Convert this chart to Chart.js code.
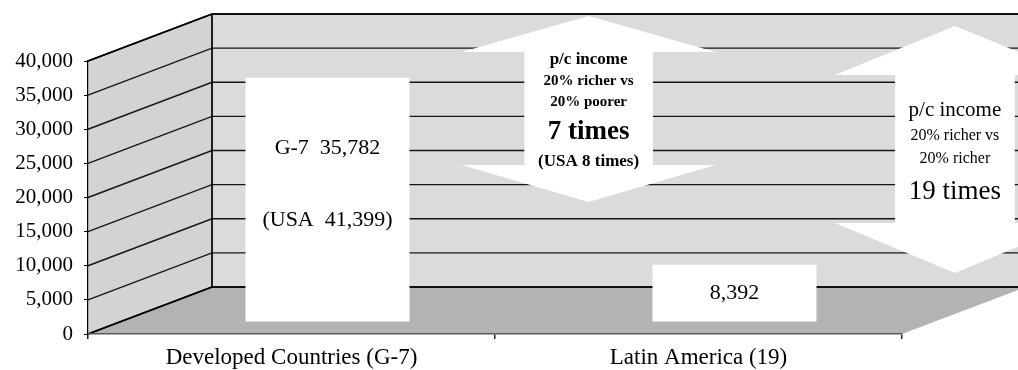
<!DOCTYPE html>
<html>
<head>
<meta charset="utf-8">
<script src="https://cdn.jsdelivr.net/npm/chart.js@4/dist/chart.umd.min.js"></script>
<style>
  html, body { margin: 0; padding: 0; background: #fff; }
  canvas { display: block; }
</style>
</head>
<body>
<canvas id="c" width="1018" height="370"></canvas>
<script>
// ---- data ----
const categories = ['Developed Countries (G-7)', 'Latin America (19)'];
const incomePerCapita = [35782, 8392];
const barPrefix = ['G-7', ''];
const usaIncome = 41399;
const yMin = 0;
const yMax = 40000;
const yStep = 5000;

// double-headed callouts; x in category units, y in income units
const arrowX = [0.73, 1.63];
const arrowHeadHalf = [0.312, 0.295];
const arrowShaftHalf = [0.158, 0.147];
const arrowTipTop = [46600, 45130];
const arrowHeadTop = [41320, 37950];
const arrowHeadBottom = [24760, 16260];
const arrowTipBottom = [19340, 8940];
const arrowText = [
  [['p/c income', 'bold 17px'], ['20% richer vs', 'bold 15px'], ['20% poorer', 'bold 15px'], ['7 times', 'bold 27px'], ['(USA 8 times)', 'bold 17px']],
  [['p/c income', '21px'], ['20% richer vs', '16px'], ['20% richer', '16px'], ['19 times', '27px']]
];
const arrowTextOffset = [
  [44, 65, 86, 116, 146],
  [84, 110, 133, 166]
];

// ---- look ----
const SERIF = "'Liberation Serif', 'Times New Roman', serif";
const DEPTH = { dx: 124, dy: -47 };   // receding vector of the 3D box
const BAR_SHIFT = { dx: 36, dy: -12 }; // bars sit part-way into the box

const fmt = v => v.toLocaleString('en-US');

// walls, floor and receding gridlines
const box3d = {
  id: 'box3d',
  beforeDraw(chart) {
    const { ctx, scales: { x, y } } = chart;
    const L = x.left, R = x.right;
    const T = y.getPixelForValue(yMax), B = y.getPixelForValue(yMin);
    const dx = DEPTH.dx, dy = DEPTH.dy;
    ctx.save();
    // back wall
    ctx.fillStyle = '#dbdbdb';
    ctx.fillRect(L + dx, T + dy, R - L, B - T);
    // left wall
    ctx.fillStyle = '#d3d3d3';
    ctx.beginPath();
    ctx.moveTo(L, T); ctx.lineTo(L + dx, T + dy); ctx.lineTo(L + dx, B + dy); ctx.lineTo(L, B);
    ctx.closePath(); ctx.fill();
    // floor
    ctx.fillStyle = '#b3b3b3';
    ctx.beginPath();
    ctx.moveTo(L, B); ctx.lineTo(L + dx, B + dy); ctx.lineTo(R + dx, B + dy); ctx.lineTo(R, B);
    ctx.closePath(); ctx.fill();
    // gridlines on both walls
    ctx.strokeStyle = '#161616';
    ctx.lineWidth = 1.4;
    for (let v = yMin; v <= yMax; v += yStep) {
      const py = y.getPixelForValue(v);
      ctx.beginPath();
      ctx.moveTo(L, py); ctx.lineTo(L + dx, py + dy); ctx.lineTo(R + dx, py + dy);
      ctx.stroke();
    }
    // edges
    ctx.strokeStyle = '#000';
    ctx.lineWidth = 1.7;
    ctx.beginPath();
    ctx.moveTo(L, T); ctx.lineTo(L + dx, T + dy); ctx.lineTo(R + dx, T + dy);
    ctx.moveTo(L + dx, T + dy); ctx.lineTo(L + dx, B + dy); ctx.lineTo(R + dx, B + dy);
    ctx.moveTo(L, B); ctx.lineTo(L + dx, B + dy);
    ctx.stroke();
    ctx.restore();
  }
};

// bars are pushed back into the box, with their captions
const barPlane = {
  id: 'barPlane',
  beforeDatasetsDraw(chart) {
    chart.ctx.save();
    chart.ctx.translate(BAR_SHIFT.dx, BAR_SHIFT.dy);
  },
  afterDatasetsDraw(chart) {
    const ctx = chart.ctx;
    const meta = chart.getDatasetMeta(0);
    ctx.fillStyle = '#000';
    ctx.textAlign = 'center';
    ctx.textBaseline = 'middle';
    ctx.font = '22px ' + SERIF;
    meta.data.forEach((bar, i) => {
      const top = bar.y, h = bar.base - bar.y;
      const value = incomePerCapita[i];
      if (barPrefix[i]) {
        ctx.fillText(barPrefix[i] + '  ' + fmt(value), bar.x, top + 0.29 * h);
        ctx.fillText('(USA  ' + fmt(usaIncome) + ')', bar.x, top + 0.585 * h);
      } else {
        ctx.fillText(fmt(value), bar.x, top + h / 2);
      }
    });
    ctx.restore();
  }
};

// white double-headed arrows with their notes
const callouts = {
  id: 'callouts',
  afterDraw(chart) {
    const { ctx, scales: { x, y } } = chart;
    const unit = x.getPixelForValue(1) - x.getPixelForValue(0);
    arrowX.forEach((ax, i) => {
      const cx = x.getPixelForValue(ax);
      const hh = arrowHeadHalf[i] * unit, hs = arrowShaftHalf[i] * unit;
      const t0 = y.getPixelForValue(arrowTipTop[i]);
      const t1 = y.getPixelForValue(arrowHeadTop[i]);
      const b1 = y.getPixelForValue(arrowHeadBottom[i]);
      const b0 = y.getPixelForValue(arrowTipBottom[i]);
      ctx.save();
      ctx.fillStyle = '#fff';
      ctx.beginPath();
      ctx.moveTo(cx, t0);
      ctx.lineTo(cx + hh, t1); ctx.lineTo(cx + hs, t1); ctx.lineTo(cx + hs, b1); ctx.lineTo(cx + hh, b1);
      ctx.lineTo(cx, b0);
      ctx.lineTo(cx - hh, b1); ctx.lineTo(cx - hs, b1); ctx.lineTo(cx - hs, t1); ctx.lineTo(cx - hh, t1);
      ctx.closePath();
      ctx.fill();
      ctx.fillStyle = '#000';
      ctx.textAlign = 'center';
      ctx.textBaseline = 'middle';
      arrowText[i].forEach(([txt, font], k) => {
        ctx.font = font + ' ' + SERIF;
        ctx.fillText(txt, cx, t0 + arrowTextOffset[i][k]);
      });
      ctx.restore();
    });
  }
};

new Chart(document.getElementById('c'), {
  type: 'bar',
  data: {
    labels: categories,
    datasets: [{
      data: incomePerCapita,
      backgroundColor: '#ffffff',
      borderWidth: 0,
      categoryPercentage: 1,
      barPercentage: 0.403
    }]
  },
  options: {
    responsive: false,
    animation: false,
    devicePixelRatio: 1,
    layout: { padding: { left: 0, top: 61, right: 116, bottom: 0 } },
    plugins: { legend: { display: false }, tooltip: { enabled: false } },
    scales: {
      x: {
        grid: { drawOnChartArea: false, drawTicks: true, tickLength: 5, color: '#222', lineWidth: 1.5, offset: true },
        border: { display: true, color: '#5a5a5a', width: 1.6 },
        ticks: { color: '#000', font: { family: SERIF, size: 23 }, padding: 5, maxRotation: 0 },
        afterFit(s) { s.height = 36; }
      },
      y: {
        min: yMin,
        max: yMax,
        grid: { drawOnChartArea: false, drawTicks: true, tickLength: 4, color: '#000' },
        border: { display: true, color: '#000', width: 1.2 },
        ticks: { stepSize: yStep, color: '#000', font: { family: SERIF, size: 21 }, padding: 11 },
        afterFit(s) { s.width = 88; }
      }
    }
  },
  plugins: [box3d, barPlane, callouts]
});
</script>
</body>
</html>
